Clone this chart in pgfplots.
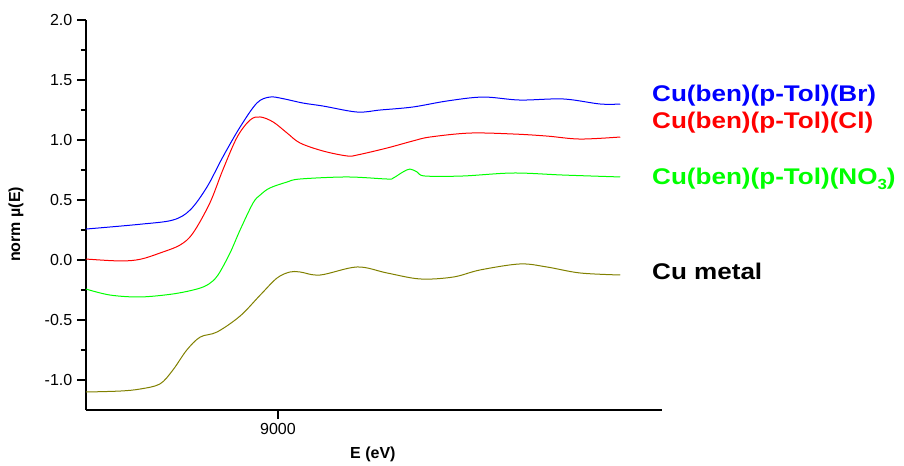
\documentclass[border=0pt]{standalone}
\usepackage{pgfplots}
\pgfplotsset{compat=1.18}
\usepackage{graphicx}
\usepackage{fontspec}
\setmainfont{Liberation Sans}
\definecolor{cblue}{RGB}{0,0,255}
\definecolor{cred}{RGB}{255,0,0}
\definecolor{cgreen}{RGB}{0,255,0}
\definecolor{colive}{RGB}{128,128,0}
\newcommand{\lab}[1]{\scalebox{1.15}[1]{\fontsize{17}{20}\selectfont\bfseries #1}}
\begin{document}
\begin{tikzpicture}
\useasboundingbox (-64.5pt,-41.25pt) rectangle (613.5pt,307.5pt);
\begin{axis}[
  at={(0,0)}, anchor=south west,
  scale only axis, width=432pt, height=292.5pt,
  xmin=8960, xmax=9080, ymin=-1.25, ymax=2.0,
  axis x line=bottom, axis y line=left,
  axis line style={-, line width=1.5pt},
  xtick={9000}, ytick={-1,-0.5,0,0.5,1,1.5,2},
  minor y tick num=1,
  tick align=outside,
  major tick length=6.75pt, minor tick length=3.75pt,
  tick style={line width=1.2pt, black},
  /pgf/number format/assume math mode=true,
  x tick label style={font=\fontsize{12}{14}\selectfont, /pgf/number format/1000 sep={}},
  y tick label style={font=\fontsize{12}{14}\selectfont, /pgf/number format/fixed, /pgf/number format/fixed zerofill, /pgf/number format/precision=1},
  xlabel={E (eV)}, ylabel={norm µ(E)},
  label style={font=\fontsize{12}{14}\selectfont\bfseries},
  xlabel style={at={(axis description cs:0.498,-0.115)}, anchor=center},
  ylabel style={at={(axis description cs:-0.1215,0.476)}, anchor=center},
  clip=false,
  every axis plot/.append style={line width=0.75pt, smooth, tension=0.55},
]
\addplot[cblue] coordinates {
(8960.0,0.258) (8971.3,0.298) (8978.1,0.333) (8981.7,0.417) (8985.2,0.608)
(8988.5,0.858) (8992.1,1.108) (8995.6,1.308) (8998.3,1.358) (9001.0,1.345)
(9005.2,1.308) (9009.4,1.283) (9016.5,1.233) (9021.3,1.250) (9028.1,1.275)
(9035.2,1.325) (9042.7,1.358) (9050.4,1.333) (9059.4,1.342) (9067.1,1.300)
(9071.3,1.300)};
\addplot[cred] coordinates {
(8960.0,0.008) (8967.1,-0.008) (8971.3,0.006) (8975.4,0.058) (8979.6,0.125)
(8982.3,0.225) (8985.8,0.475) (8988.5,0.750) (8991.5,1.025) (8994.2,1.167)
(8996.3,1.192) (8999.0,1.150) (9001.9,1.058) (9004.6,0.975) (9009.4,0.908)
(9014.4,0.867) (9016.5,0.875) (9022.7,0.933) (9028.1,0.992) (9031.7,1.025)
(9040.0,1.058) (9049.0,1.050) (9056.0,1.033) (9062.9,1.008) (9071.3,1.025)};
\addplot[cgreen] coordinates {
(8960.0,-0.242) (8965.0,-0.292) (8971.3,-0.308) (8978.1,-0.283) (8983.1,-0.242)
(8985.6,-0.200) (8987.5,-0.125) (8990.0,0.058) (8992.1,0.250) (8994.8,0.475)
(8996.3,0.542) (8998.3,0.600) (9001.9,0.650) (9004.6,0.675) (9014.4,0.692)
(9022.7,0.675) (9024.0,0.683) (9026.0,0.733) (9027.5,0.758) (9029.0,0.733)
(9030.6,0.700) (9038.5,0.700) (9049.0,0.725) (9059.4,0.708) (9071.3,0.692)};
\addplot[colive] coordinates {
(8960.0,-1.100) (8967.1,-1.092) (8971.3,-1.075) (8975.4,-1.033) (8978.1,-0.917)
(8981.0,-0.750) (8983.8,-0.642) (8987.3,-0.600) (8992.1,-0.467) (8996.3,-0.292)
(8999.8,-0.150) (9002.5,-0.100) (9004.6,-0.100) (9008.8,-0.125)
(9016.5,-0.058) (9022.7,-0.108) (9029.6,-0.158) (9036.5,-0.142) (9042.1,-0.083)
(9050.4,-0.033) (9056.0,-0.058) (9062.9,-0.108) (9071.3,-0.125)};
\node[anchor=west, inner sep=0pt, text=cblue] at (axis cs:9077.9,1.367) {\lab{Cu(ben)(p-Tol)(Br)}};
\node[anchor=west, inner sep=0pt, text=cred] at (axis cs:9077.9,1.142) {\lab{Cu(ben)(p-Tol)(Cl)}};
\node[anchor=west, inner sep=0pt, text=cgreen] at (axis cs:9077.9,0.675) {\lab{Cu(ben)(p-Tol)(NO\raisebox{-0.45ex}{\fontsize{11}{12}\selectfont 3})}};
\node[anchor=west, inner sep=0pt, text=black] at (axis cs:9077.9,-0.092) {\lab{Cu metal}};
\end{axis}
\end{tikzpicture}
\end{document}
